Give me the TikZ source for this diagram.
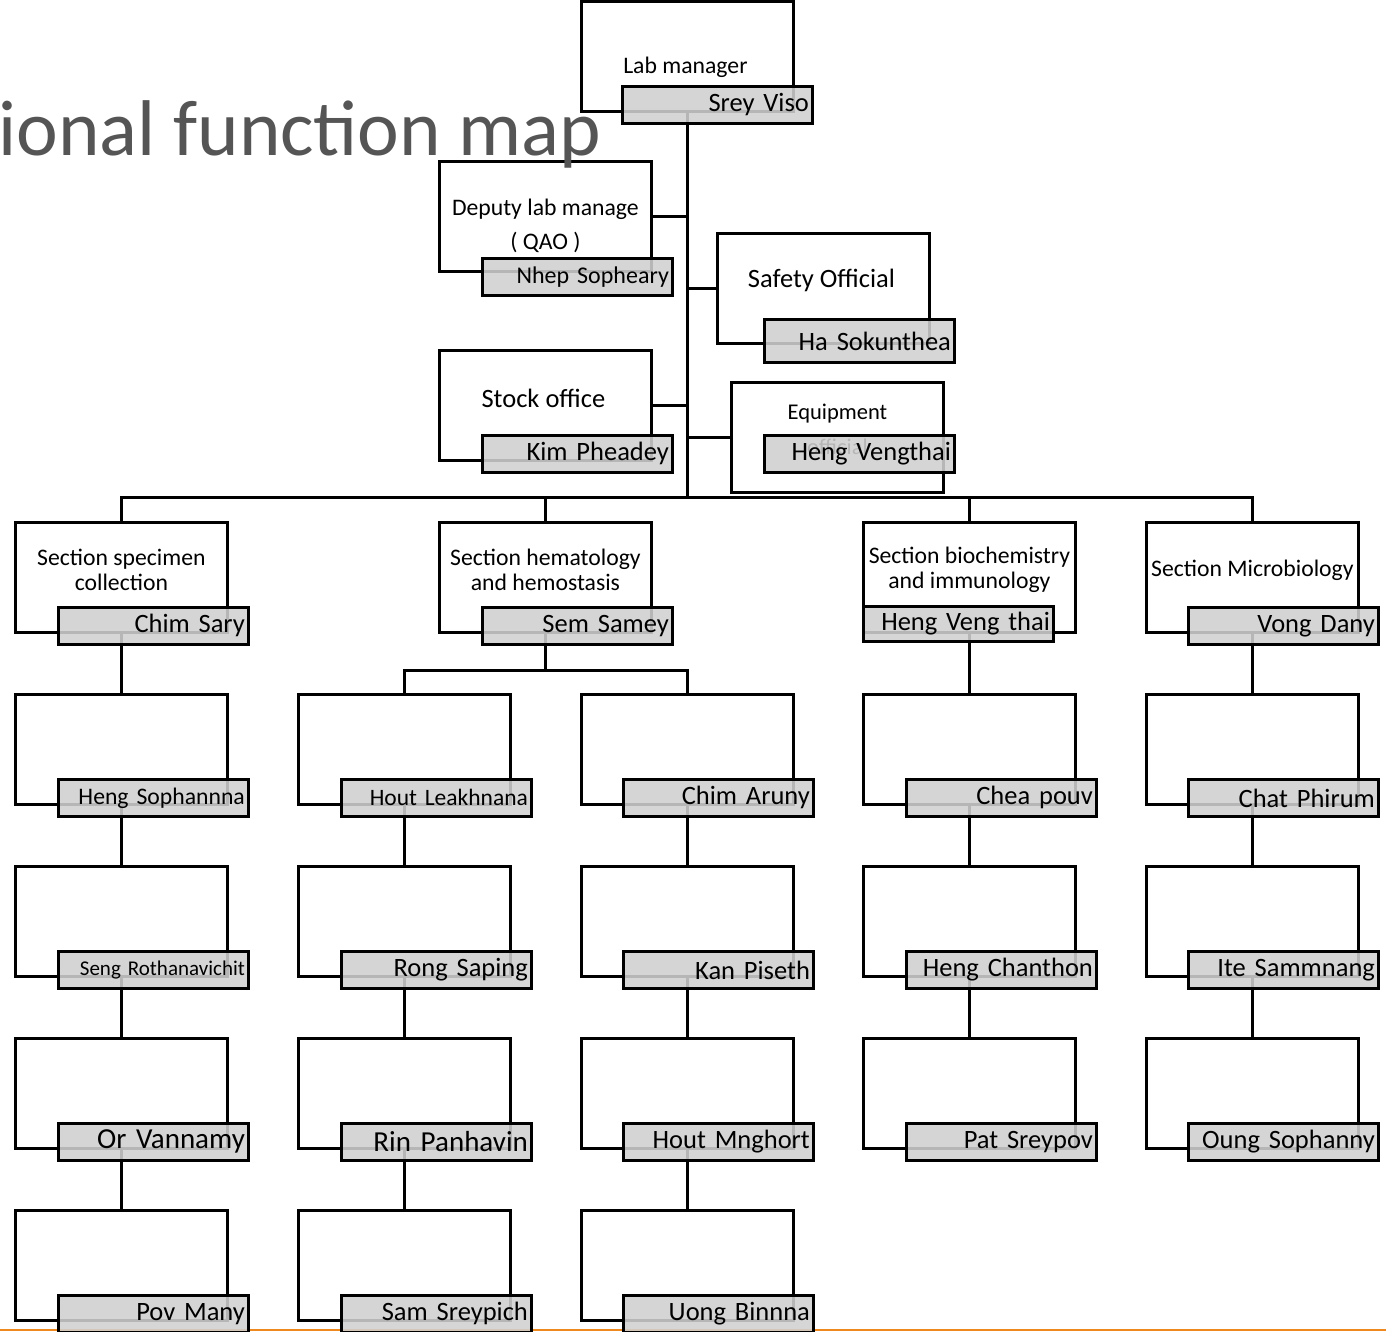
\documentclass[tikz,border=0pt]{standalone}
\usepackage{fontspec}
\setmainfont{Carlito}
\usetikzlibrary{positioning}

\definecolor{namegray}{RGB}{208,208,208}
\definecolor{titlegray}{RGB}{85,85,85}
\definecolor{rulecolor}{RGB}{237,137,30}
\newcommand\personfont[1]{\fontsize{#1}{#1}\selectfont}
\newcommand\rolefont{\fontsize{23.7}{25}\selectfont}

\begin{document}
\begin{tikzpicture}[x=1pt, y=-1pt, line width=2.8pt,
	postbox/.style={rectangle, draw, fill=white, minimum width=212pt, minimum height=110pt, inner sep=0pt, anchor=north west},
	namebox/.style={rectangle, draw, fill=namegray, fill opacity=0.88, text opacity=1, minimum height=37pt, text width=183pt, inner xsep=3.5pt, inner ysep=0pt, align=right, anchor=north west, font=\personfont{26.5}},
	role/.style={align=center, inner sep=0pt, font=\rolefont}]
	\useasboundingbox (0,0) rectangle (1386,1331);
	\draw[rulecolor, line width=2pt] (0,1330) -- (1386,1330);

	% posts
	\node[postbox] (lab) at (580,0) {};
	\node[postbox] (deputy) at (438,160) {};
	\node[postbox] (safety) at (716,232) {};
	\node[postbox] (stock) at (438,349) {};
	\node[postbox] (equip) at (730,381) {};

	\node[postbox] (secspec) at (14,521) {};
	\node[postbox] (sechem) at (438,521) {};
	\node[postbox] (secbio) at (862,521) {};
	\node[postbox] (secmic) at (1145,521) {};

	\node[postbox] (spec1) at (14,693) {};
	\node[postbox] (spec2) at (14,865) {};
	\node[postbox] (spec3) at (14,1037) {};
	\node[postbox] (spec4) at (14,1209) {};
	\node[postbox] (hemA1) at (297,693) {};
	\node[postbox] (hemA2) at (297,865) {};
	\node[postbox] (hemA3) at (297,1037) {};
	\node[postbox] (hemA4) at (297,1209) {};
	\node[postbox] (hemB1) at (580,693) {};
	\node[postbox] (hemB2) at (580,865) {};
	\node[postbox] (hemB3) at (580,1037) {};
	\node[postbox] (hemB4) at (580,1209) {};
	\node[postbox] (bio1) at (862,693) {};
	\node[postbox] (bio2) at (862,865) {};
	\node[postbox] (bio3) at (862,1037) {};
	\node[postbox] (mic1) at (1145,693) {};
	\node[postbox] (mic2) at (1145,865) {};
	\node[postbox] (mic3) at (1145,1037) {};

	% roles
	\node[role] (labt) at ([xshift=-2pt, yshift=-11pt]lab.center) {Lab manager};
	\node[role] (deputyt) at ([yshift=-10pt]deputy.center) {Deputy lab manage\\[9pt]( QAO )};
	\node[role, font=\personfont{26.5}] (safetyt) at ([xshift=-2pt, yshift=8pt]safety.center) {Safety Official};
	\node[role, font=\personfont{26.5}] (stockt) at ([xshift=-2pt, yshift=7.5pt]stock.center) {Stock office};
	\node[role, font=\personfont{22.5}] (equipt) at ([yshift=8pt]equip.center) {Equipment\\[12pt]official};
	\node[role] (secspect) at ([yshift=7.5pt]secspec.center) {Section specimen\\collection};
	\node[role] (secremt) at ([yshift=7.5pt]sechem.center) {Section hematology\\and hemostasis};
	\node[role] (secbiot) at ([yshift=7.5pt]secbio.center) {Section biochemistry\\and immunology};
	\node[role] (secmict) at ([yshift=7pt]secmic.center) {Section Microbiology};

	% edges
	\path (lab.south) ++(0,385) coordinate (bus);
	\draw (lab.south) -- (bus);
	\draw (deputy.east) -- (deputy.east -| bus);
	\draw (safety.west) -- (safety.west -| bus);
	\draw (stock.east) -- (stock.east -| bus);
	\draw (equip.west) -- (equip.west -| bus);
	\draw (secspec.north) |- (bus) -| (secmic.north);
	\draw (sechem.north) -- (sechem.north |- bus);
	\draw (secbio.north) -- (secbio.north |- bus);

	\draw (secspec.south) -- (spec1.north);
	\draw (spec1.south) -- (spec2.north);
	\draw (spec2.south) -- (spec3.north);
	\draw (spec3.south) -- (spec4.north);

	\path (sechem.south) ++(0,37) coordinate (hemfork);
	\draw (sechem.south) -- (hemfork);
	\draw (hemA1.north) |- (hemfork) -| (hemB1.north);
	\draw (hemA1.south) -- (hemA2.north);
	\draw (hemA2.south) -- (hemA3.north);
	\draw (hemA3.south) -- (hemA4.north);
	\draw (hemB1.south) -- (hemB2.north);
	\draw (hemB2.south) -- (hemB3.north);
	\draw (hemB3.south) -- (hemB4.north);

	\draw (secbio.south) -- (bio1.north);
	\draw (bio1.south) -- (bio2.north);
	\draw (bio2.south) -- (bio3.north);

	\draw (secmic.south) -- (mic1.north);
	\draw (mic1.south) -- (mic2.north);
	\draw (mic2.south) -- (mic3.north);

	% names
	\node[namebox] (labn) at (621,85) {Srey Viso};
	\node[namebox, font=\personfont{24}] (deputyn) at (481,257) {Nhep Sopheary};
	\node[namebox, minimum height=43pt] (safetyn) at (763,318) {Ha Sokunthea};
	\node[namebox] (stockn) at (481,434) {Kim Pheadey};
	\node[namebox] (equipn) at (763,434) {Heng Vengthai};

	\node[namebox] (secspecn) at (57,606) {Chim Sary};
	\node[namebox] (sechemn) at (481,606) {Sem Samey};
	\node[namebox, minimum height=35pt] (secbion) at (862,605) {Heng Veng thai};
	\node[namebox] (secmicn) at (1187,606) {Vong Dany};

	\node[namebox, font=\personfont{23.7}] (spec1n) at (57,778) {Heng Sophannna};
	\node[namebox, font=\personfont{21}] (spec2n) at (57,950) {Seng Rothanavichit};
	\node[namebox, font=\personfont{29}] (spec3n) at (57,1122) {Or Vannamy};
	\node[namebox] (spec4n) at (57,1294) {Pov Many};
	\node[namebox, font=\personfont{23.5}] (hemA1n) at (340,778) {Hout Leakhnana};
	\node[namebox] (hemA2n) at (340,950) {Rong Saping};
	\node[namebox, font=\personfont{29}] (hemA3n) at (340,1122) {Rin Panhavin};
	\node[namebox] (hemA4n) at (340,1294) {Sam Sreypich};
	\node[namebox] (hemB1n) at (622,778) {Chim Aruny};
	\node[namebox] (hemB2n) at (622,950) {Kan Piseth};
	\node[namebox] (hemB3n) at (622,1122) {Hout Mnghort};
	\node[namebox] (hemB4n) at (622,1294) {Uong Binnna};
	\node[namebox] (bio1n) at (905,778) {Chea pouv};
	\node[namebox] (bio2n) at (905,950) {Heng Chanthon};
	\node[namebox] (bio3n) at (905,1122) {Pat Sreypov};
	\node[namebox] (mic1n) at (1187,778) {Chat Phirum};
	\node[namebox] (mic2n) at (1187,950) {Ite Sammnang};
	\node[namebox] (mic3n) at (1187,1122) {Oung Sophanny};

	% heading
	\node[anchor=base east, inner sep=0pt, text=titlegray, font=\personfont{79}] (heading) at (603,155) {ional function map};
\end{tikzpicture}
\end{document}
